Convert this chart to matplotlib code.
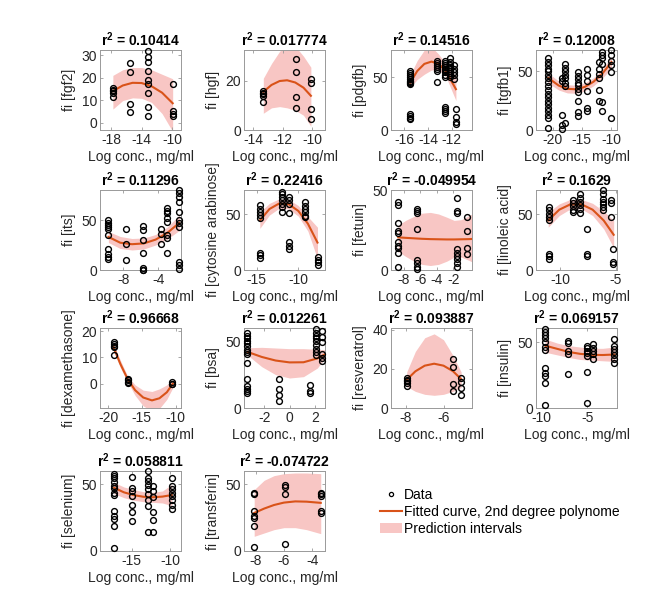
import matplotlib
matplotlib.use("Agg")
import matplotlib.pyplot as plt
from matplotlib.lines import Line2D
from matplotlib.patches import Patch

plt.rcParams['font.family'] = ['Liberation Sans', 'DejaVu Sans']
plt.rcParams['axes.unicode_minus'] = False
plt.rcParams['mathtext.fontset'] = 'custom'
plt.rcParams['mathtext.bf'] = 'Liberation Sans:bold'
plt.rcParams['mathtext.rm'] = 'Liberation Sans'

# ---- data ----
# each panel: concentration columns, fi values per column,
# fitted 2nd degree curve and prediction interval at a few x positions

fgf2_cols = [-17.8, -15.5, -13.2, -9.9]
fgf2_vals = [[15.5, 14.6, 14.0, 13.0, 11.3], [26.6, 22.5, 8.3, 4.8],
             [32.0, 29.0, 27.0, 23.0, 18.8, 17.0, 13.0, 7.0, 3.0], [17.0, 5.3, 4.0, 3.0]]
fgf2_fit_x = [-17.8, -16.5, -15.2, -14.0, -12.7, -11.3, -9.9]
fgf2_fit = [14.0, 16.5, 17.7, 17.6, 16.2, 13.3, 8.6]
fgf2_lo = [6.0, 9.8, 11.0, 10.8, 9.0, 4.0, -4.0]
fgf2_hi = [21.0, 23.5, 24.5, 24.5, 23.5, 21.5, 19.5]

hgf_cols = [-13.3, -11.07, -10.1]
hgf_vals = [[15.9, 15.1, 14.5, 13.8, 11.5], [29.0, 23.6, 13.5, 9.0], [20.6, 19.1, 8.4, 4.5]]
hgf_fit_x = [-13.3, -12.75, -12.2, -11.7, -11.15, -10.6, -10.1]
hgf_fit = [15.5, 18.3, 19.9, 20.2, 19.3, 17.2, 13.9]
hgf_lo = [6.8, 9.0, 9.5, 9.0, 8.0, 6.0, 1.5]
hgf_hi = [21.0, 27.0, 32.0, 35.0, 34.0, 30.0, 25.5]

pdgfb_cols = [-15.5, -13.2, -12.55, -12.13, -11.8, -11.63]
pdgfb_vals = [[56, 54, 52, 50, 48, 47, 46, 45, 44, 15.4, 13, 11.7, 10.6],
              [66, 64, 62, 60, 58, 56, 46],
              [66, 64, 62, 60, 58, 57, 55, 52, 50, 22, 20, 18, 16],
              [68, 65, 62, 60, 58, 56, 54, 52, 50],
              [62, 58, 55, 52, 48], [20, 12, 8, 6]]
pdgfb_fit_x = [-15.5, -14.9, -14.3, -13.7, -13.1, -12.5, -11.65]
pdgfb_fit = [44.8, 56.0, 62.8, 65.0, 62.8, 56.0, 38.8]
pdgfb_lo = [40, 48, 53, 57, 57, 51, 28]
pdgfb_hi = [52, 66, 76, 79, 72, 63, 51]

tgfb1_cols = [-20.8, -18.4, -17.9, -15.7, -14.2, -12.1, -11.5, -9.9]
tgfb1_vals = [[61, 58, 55, 52, 50, 47, 44, 41, 37, 34, 31, 28, 25, 22, 19, 16, 13, 10, 2],
              [42, 44, 13, 4, 1], [56, 53, 50, 47, 44, 40, 37, 6],
              [49, 46, 43, 40, 38, 35, 32, 25, 15, 12], [52, 47, 42, 33, 19, 16],
              [58, 52, 48, 44, 34, 25], [66.6, 63.7, 61, 56, 23.5, 16],
              [68, 64, 59, 55, 49, 10]]
tgfb1_fit_x = [-20.8, -19.0, -17.5, -16.0, -14.5, -13.0, -11.5, -9.9]
tgfb1_fit = [44.3, 37.8, 35.0, 34.6, 36.6, 41.0, 47.8, 57.7]
tgfb1_lo = [40, 34, 31.5, 31.2, 33.2, 37.5, 44, 52.5]
tgfb1_hi = [48.5, 41.5, 38.5, 38, 40, 44.5, 51.5, 62.5]

its_cols = [-9.7, -7.7, -5.7, -3.7, -3.0, -1.6]
its_vals = [[50, 47.3, 45, 42.6, 40.6, 34.8, 21.3, 16.2, 12.8, 11.1],
            [40.6, 26.4, 10.1], [44, 40, 30.4, 16.9, 1.7, 0.5, 0],
            [40.6, 35.8, 26.4], [61.8, 59.4, 57.5, 51.8, 48.4, 35, 31.6, 17],
            [80, 76.6, 72.6, 67.9, 58, 50, 47, 43, 8, 4.9, 1.5]]
its_fit_x = [-9.7, -8.35, -7.0, -5.65, -4.3, -2.95, -1.6]
its_fit = [33.1, 27.3, 25.8, 26.6, 30.4, 37.2, 47.1]
its_lo = [27.5, 21.5, 20, 21, 25, 31, 39.5]
its_hi = [38.5, 33.5, 31.5, 32, 35.5, 43, 55]

cyto_cols = [-14.6, -11.93, -11.09, -9.2, -7.68]
cyto_vals = [[58.1, 55.1, 52.1, 49.1, 47, 15.3, 13.2, 11.1],
             [70, 68, 65.6, 62.6, 59, 56.6, 52.1],
             [65.6, 62.6, 59, 51.2, 25, 22, 19],
             [61, 58, 55, 52, 49, 47.6], [11.7, 9.3, 7.2, 4.2]]
cyto_fit_x = [-14.6, -13.45, -12.3, -11.15, -10.0, -8.85, -7.7]
cyto_fit = [44.6, 54.9, 59.8, 59.2, 53.2, 41.7, 24.7]
cyto_lo = [37.5, 49.5, 55.5, 55, 48.5, 35, 10]
cyto_hi = [52, 60, 64, 63.5, 58, 48, 38.5]

fetuin_cols = [-8.69, -6.38, -1.59, -0.37]
fetuin_vals = [[42.3, 40.8, 29.1, 24.1, 22.9, 17.2, 15.1, 13.6, 10.9, 2],
               [38.1, 36.6, 35.4, 25.6, 6.2, 4.1, 2, 0.6],
               [45, 37.1, 35.4, 13.1, 10.9, 8.9, 6.8, 4.1, 2],
               [33.3, 24.6, 13.6, 10.3]]
fetuin_fit_x = [-8.7, -7.8, -6.8, -5.8, -4.8, -3.8, -2.8, -1.9, -1.0, -0.1, 0.3]
fetuin_fit = [20.4, 20.1, 19.8, 19.5, 19.3, 19.2, 19.1, 19.1, 19.2, 19.3, 19.4]
fetuin_lo = [11.5, 8.5, 5.5, 3.5, 2.8, 3.5, 5.5, 8, 8, 6, 5]
fetuin_hi = [28, 31, 33.5, 35.5, 36, 35, 33, 31, 31.5, 34, 35]

lino_cols = [-11.06, -8.85, -8.25, -7.64, -6.2, -5.45, -5.3]
lino_vals = [[56.6, 53.6, 50.6, 47.6, 44.6, 14.6, 12.2, 10.1],
             [63.3, 60.3, 57.3, 54.2, 52.1], [68.7, 65.1, 61.2, 58.2, 55.2, 51.2],
             [37, 14.6, 12.2], [71.7, 68.1, 64.2, 61.2, 59.7, 56.6, 53.6],
             [63.3, 60.3, 47.6], [19.1, 7.1, 5]]
lino_fit_x = [-11.1, -10.1, -9.1, -8.1, -7.1, -6.1, -5.2]
lino_fit = [44.6, 54.3, 59.1, 59.1, 54.3, 44.6, 31.7]
lino_lo = [38.5, 49, 55, 55, 49, 37, 20]
lino_hi = [52, 59.5, 63.5, 63.5, 60, 53, 44.5]

dex_cols = [-19.17, -17.07, -10.48]
dex_vals = [[15.8, 15.1, 14.4, 13.8, 11], [1.85, 1.2, 0.6, 0.2], [0.6, 0, -0.2]]
dex_fit_x = [-19.2, -18.2, -17.1, -16.0, -14.8, -13.5, -12.4, -11.3, -10.4]
dex_fit = [13.9, 7.6, 1.7, -2.5, -5.3, -6.4, -5.6, -3.3, 0]
dex_lo = [12.6, 6.2, 0.6, -4.5, -8.5, -10.5, -9.5, -6, -1.5]
dex_hi = [15.2, 9.0, 2.8, -0.5, -2.5, -3, -2, -0.5, 1.5]

bsa_cols = [-3.34, -0.86, 1.6, 2.08, 2.54]
bsa_vals = [[55.9, 54.2, 52.5, 50.6, 48.6, 46.2, 43.7, 42, 40.3, 33.5, 21.4, 16.5, 14.6, 12.9, 11.2],
            [21.4, 14.6, 9.7, 5.1], [17, 12.9, 11.2],
            [59, 56.6, 54.2, 52.5, 50, 47.6, 44.4, 42, 39.6],
            [57.8, 53, 49.3, 40.8, 37.2, 35.5]]
bsa_fit_x = [-3.3, -2.2, -1.1, 0, 1.1, 2.2, 2.8]
bsa_fit = [42, 38.3, 35.6, 34.2, 34.3, 37.2, 40.3]
bsa_lo = [39.5, 31, 25, 22.5, 23.5, 30, 37.5]
bsa_hi = [45.2, 45.5, 45, 44.5, 44.5, 44, 43.7]

resv_cols = [-7.96, -5.5, -5.07]
resv_vals = [[15.3, 14.5, 13.7, 12.8, 11.5], [25.2, 21.2, 12.2, 8.9], [15.3, 13.2, 10.5, 6.7]]
resv_fit_x = [-7.96, -7.5, -7.0, -6.5, -6.0, -5.5, -5.06]
resv_fit = [14.5, 18.8, 21.7, 22.7, 21.7, 18.9, 14.8]
resv_lo = [11, 8.5, 7, 6.5, 7, 8.5, 10.5]
resv_hi = [18.5, 29, 36, 38, 35, 27, 18.5]

insulin_cols = [-9.63, -7.16, -5.0, -4.33, -2.04]
insulin_vals = [[59.9, 58.1, 55.7, 53.7, 50, 46.8, 44.3, 30.3, 26.6, 24.6, 19.2, 2.5],
                [51.2, 49.3, 43.8, 41.4, 26.1], [47.5, 45.8, 43.8, 41.9, 39.4, 27.8, 4],
                [48.8, 45.8, 43.3, 40.9, 37], [52.6, 47.5, 45, 42.6, 40.1, 37, 34]]
insulin_fit_x = [-9.6, -8.3, -7.0, -5.8, -4.6, -3.3, -2.0]
insulin_fit = [47.5, 45.1, 42.7, 41.3, 40.5, 40.4, 40.8]
insulin_lo = [42.5, 40.5, 38.5, 37, 36.5, 36, 35.5]
insulin_hi = [52.5, 49.5, 47.5, 46.5, 45.5, 45.5, 46.5]

selen_cols = [-17.3, -15.0, -12.84, -12.18, -9.78]
selen_vals = [[58.1, 56.3, 54.5, 52, 48.7, 46.9, 43.7, 41.9, 30.3, 26, 24.2, 18.4, 2],
              [55.5, 47.5, 44.9, 41.2, 34.8, 29.3, 22.2],
              [60.1, 55.1, 52.5, 49.5, 46.2, 42.4, 38.6, 33.6, 14.6],
              [48.7, 44.9, 40.4, 29.3, 23.4, 14.6],
              [54.5, 48.7, 46.2, 43.7, 41.2, 37.9, 34.8, 31.8]]
selen_fit_x = [-17.3, -16.0, -14.7, -13.5, -12.3, -11.0, -9.8]
selen_fit = [47.5, 44.0, 41.9, 40.7, 40.3, 40.8, 42.0]
selen_lo = [43, 40, 38, 37, 36.5, 36, 34]
selen_hi = [51.5, 48, 46, 44.5, 44, 45, 50]

transf_cols = [-8.12, -5.93, -3.41]
transf_vals = [[43.7, 42.4, 30.3, 26, 24.7, 18.4, 3.3], [49.5, 48, 42.4, 5.3],
               [43.7, 42.4, 41.2, 30.3, 28.5]]
transf_fit_x = [-8.1, -7.4, -6.7, -6.0, -5.2, -4.4, -3.4]
transf_fit = [28.5, 31.8, 34.5, 36.3, 37.2, 37.0, 36.1]
transf_lo = [11, 13.5, 16, 17.5, 17.5, 16, 13]
transf_hi = [46, 53, 56.5, 58, 58.5, 58.5, 58]

names = ['fgf2', 'hgf', 'pdgfb', 'tgfb1', 'its', 'cytosine arabinose', 'fetuin',
         'linoleic acid', 'dexamethasone', 'bsa', 'resveratrol', 'insulin',
         'selenium', 'transferin']
r2_labels = ['0.10414', '0.017774', '0.14516', '0.12008', '0.11296', '0.22416',
             '-0.049954', '0.1629', '0.96668', '0.012261', '0.093887', '0.069157',
             '0.058811', '-0.074722']

series = [
    (fgf2_cols, fgf2_vals, fgf2_fit_x, fgf2_fit, fgf2_lo, fgf2_hi),
    (hgf_cols, hgf_vals, hgf_fit_x, hgf_fit, hgf_lo, hgf_hi),
    (pdgfb_cols, pdgfb_vals, pdgfb_fit_x, pdgfb_fit, pdgfb_lo, pdgfb_hi),
    (tgfb1_cols, tgfb1_vals, tgfb1_fit_x, tgfb1_fit, tgfb1_lo, tgfb1_hi),
    (its_cols, its_vals, its_fit_x, its_fit, its_lo, its_hi),
    (cyto_cols, cyto_vals, cyto_fit_x, cyto_fit, cyto_lo, cyto_hi),
    (fetuin_cols, fetuin_vals, fetuin_fit_x, fetuin_fit, fetuin_lo, fetuin_hi),
    (lino_cols, lino_vals, lino_fit_x, lino_fit, lino_lo, lino_hi),
    (dex_cols, dex_vals, dex_fit_x, dex_fit, dex_lo, dex_hi),
    (bsa_cols, bsa_vals, bsa_fit_x, bsa_fit, bsa_lo, bsa_hi),
    (resv_cols, resv_vals, resv_fit_x, resv_fit, resv_lo, resv_hi),
    (insulin_cols, insulin_vals, insulin_fit_x, insulin_fit, insulin_lo, insulin_hi),
    (selen_cols, selen_vals, selen_fit_x, selen_fit, selen_lo, selen_hi),
    (transf_cols, transf_vals, transf_fit_x, transf_fit, transf_lo, transf_hi),
]

# axis settings per panel
xlims = [(-19.5, -8.8), (-14.6, -9.15), (-17.1, -10.3), (-22.9, -8.95),
         (-10.66, -1.4), (-16.5, -6.8), (-9.58, 0.27), (-12.2, -4.9),
         (-21.2, -9.2), (-3.6, 2.8), (-8.8, -4.48), (-10.63, -1.74),
         (-19.1, -8.6), (-8.82, -3.1)]
ylims = [(-3.3, 32.3), (0, 32.5), (0, 76), (0, 68), (0, 80), (0, 72), (0, 50),
         (0, 72), (-9.3, 21.2), (0, 60), (0, 41), (0, 61), (0, 60), (0, 60)]
xticks = [[-18, -14, -10], [-14, -12, -10], [-16, -14, -12], [-20, -15, -10],
          [-8, -4], [-15, -10], [-8, -6, -4, -2], [-10, -5], [-20, -15, -10],
          [-2, 0, 2], [-8, -6], [-10, -5], [-15, -10], [-8, -6, -4]]
yticks = [[0, 10, 20, 30], [0, 20], [0, 50], [0, 50], [0, 50], [0, 50], [0, 50],
          [0, 50], [0, 10, 20], [0, 50], [0, 20, 40], [0, 50], [0, 50], [0, 50]]

FIT_COLOR = '#d95319'
BAND_COLOR = '#f8c6c4'

W, H = 666, 597
fig = plt.figure(figsize=(W / 100, H / 100), dpi=100)

col_left = [100, 244, 391, 536]
row_top = [50, 190, 328, 471]
ax_w, ax_h = 81, 80

for i, (cols, vals, fx, fy, lo, hi) in enumerate(series):
    r, c = divmod(i, 4)
    ax = fig.add_axes([col_left[c] / W, 1 - (row_top[r] + ax_h) / H, ax_w / W, ax_h / H])
    ax.fill_between(fx, lo, hi, color=BAND_COLOR, lw=0, zorder=1)
    ax.plot(fx, fy, color=FIT_COLOR, lw=1.5, zorder=2)
    for x, ys in zip(cols, vals):
        ax.plot([x] * len(ys), ys, 'o', ms=4.2, mfc='none', mec='k', mew=1.0,
                zorder=3, clip_on=False)
    ax.set_xlim(xlims[i])
    ax.set_ylim(ylims[i])
    ax.set_xticks(xticks[i])
    ax.set_yticks(yticks[i])
    ax.tick_params(direction='in', length=2.5, width=0.6, labelsize=10,
                   colors='0.6', labelcolor='0.15', pad=2, top=True, right=True)
    for s in ax.spines.values():
        s.set_color('0.6')
        s.set_linewidth(0.7)
    ax.set_title(r'$\mathbf{r^2}$ = ' + r2_labels[i], fontsize=10, fontweight='bold', pad=3)
    ax.set_ylabel('fi [' + names[i] + ']', fontsize=10, color='0.15', labelpad=4)
    ax.set_xlabel('Log conc., mg/ml', fontsize=10, color='0.15', labelpad=2)

handles = [Line2D([], [], ls='none', marker='o', ms=3, mfc='none', mec='k', mew=0.9),
           Line2D([], [], color=FIT_COLOR, lw=1.5),
           Patch(facecolor=BAND_COLOR, edgecolor='none')]
labels = ['Data', 'Fitted curve, 2nd degree polynome', 'Prediction intervals']
fig.legend(handles, labels, loc='upper left', bbox_to_anchor=(380 / W, 1 - 488 / H),
           frameon=False, fontsize=10, handlelength=1.6, handletextpad=0.15,
           labelspacing=0.2, borderpad=0, borderaxespad=0)

fig.savefig('out.png', dpi=100)
